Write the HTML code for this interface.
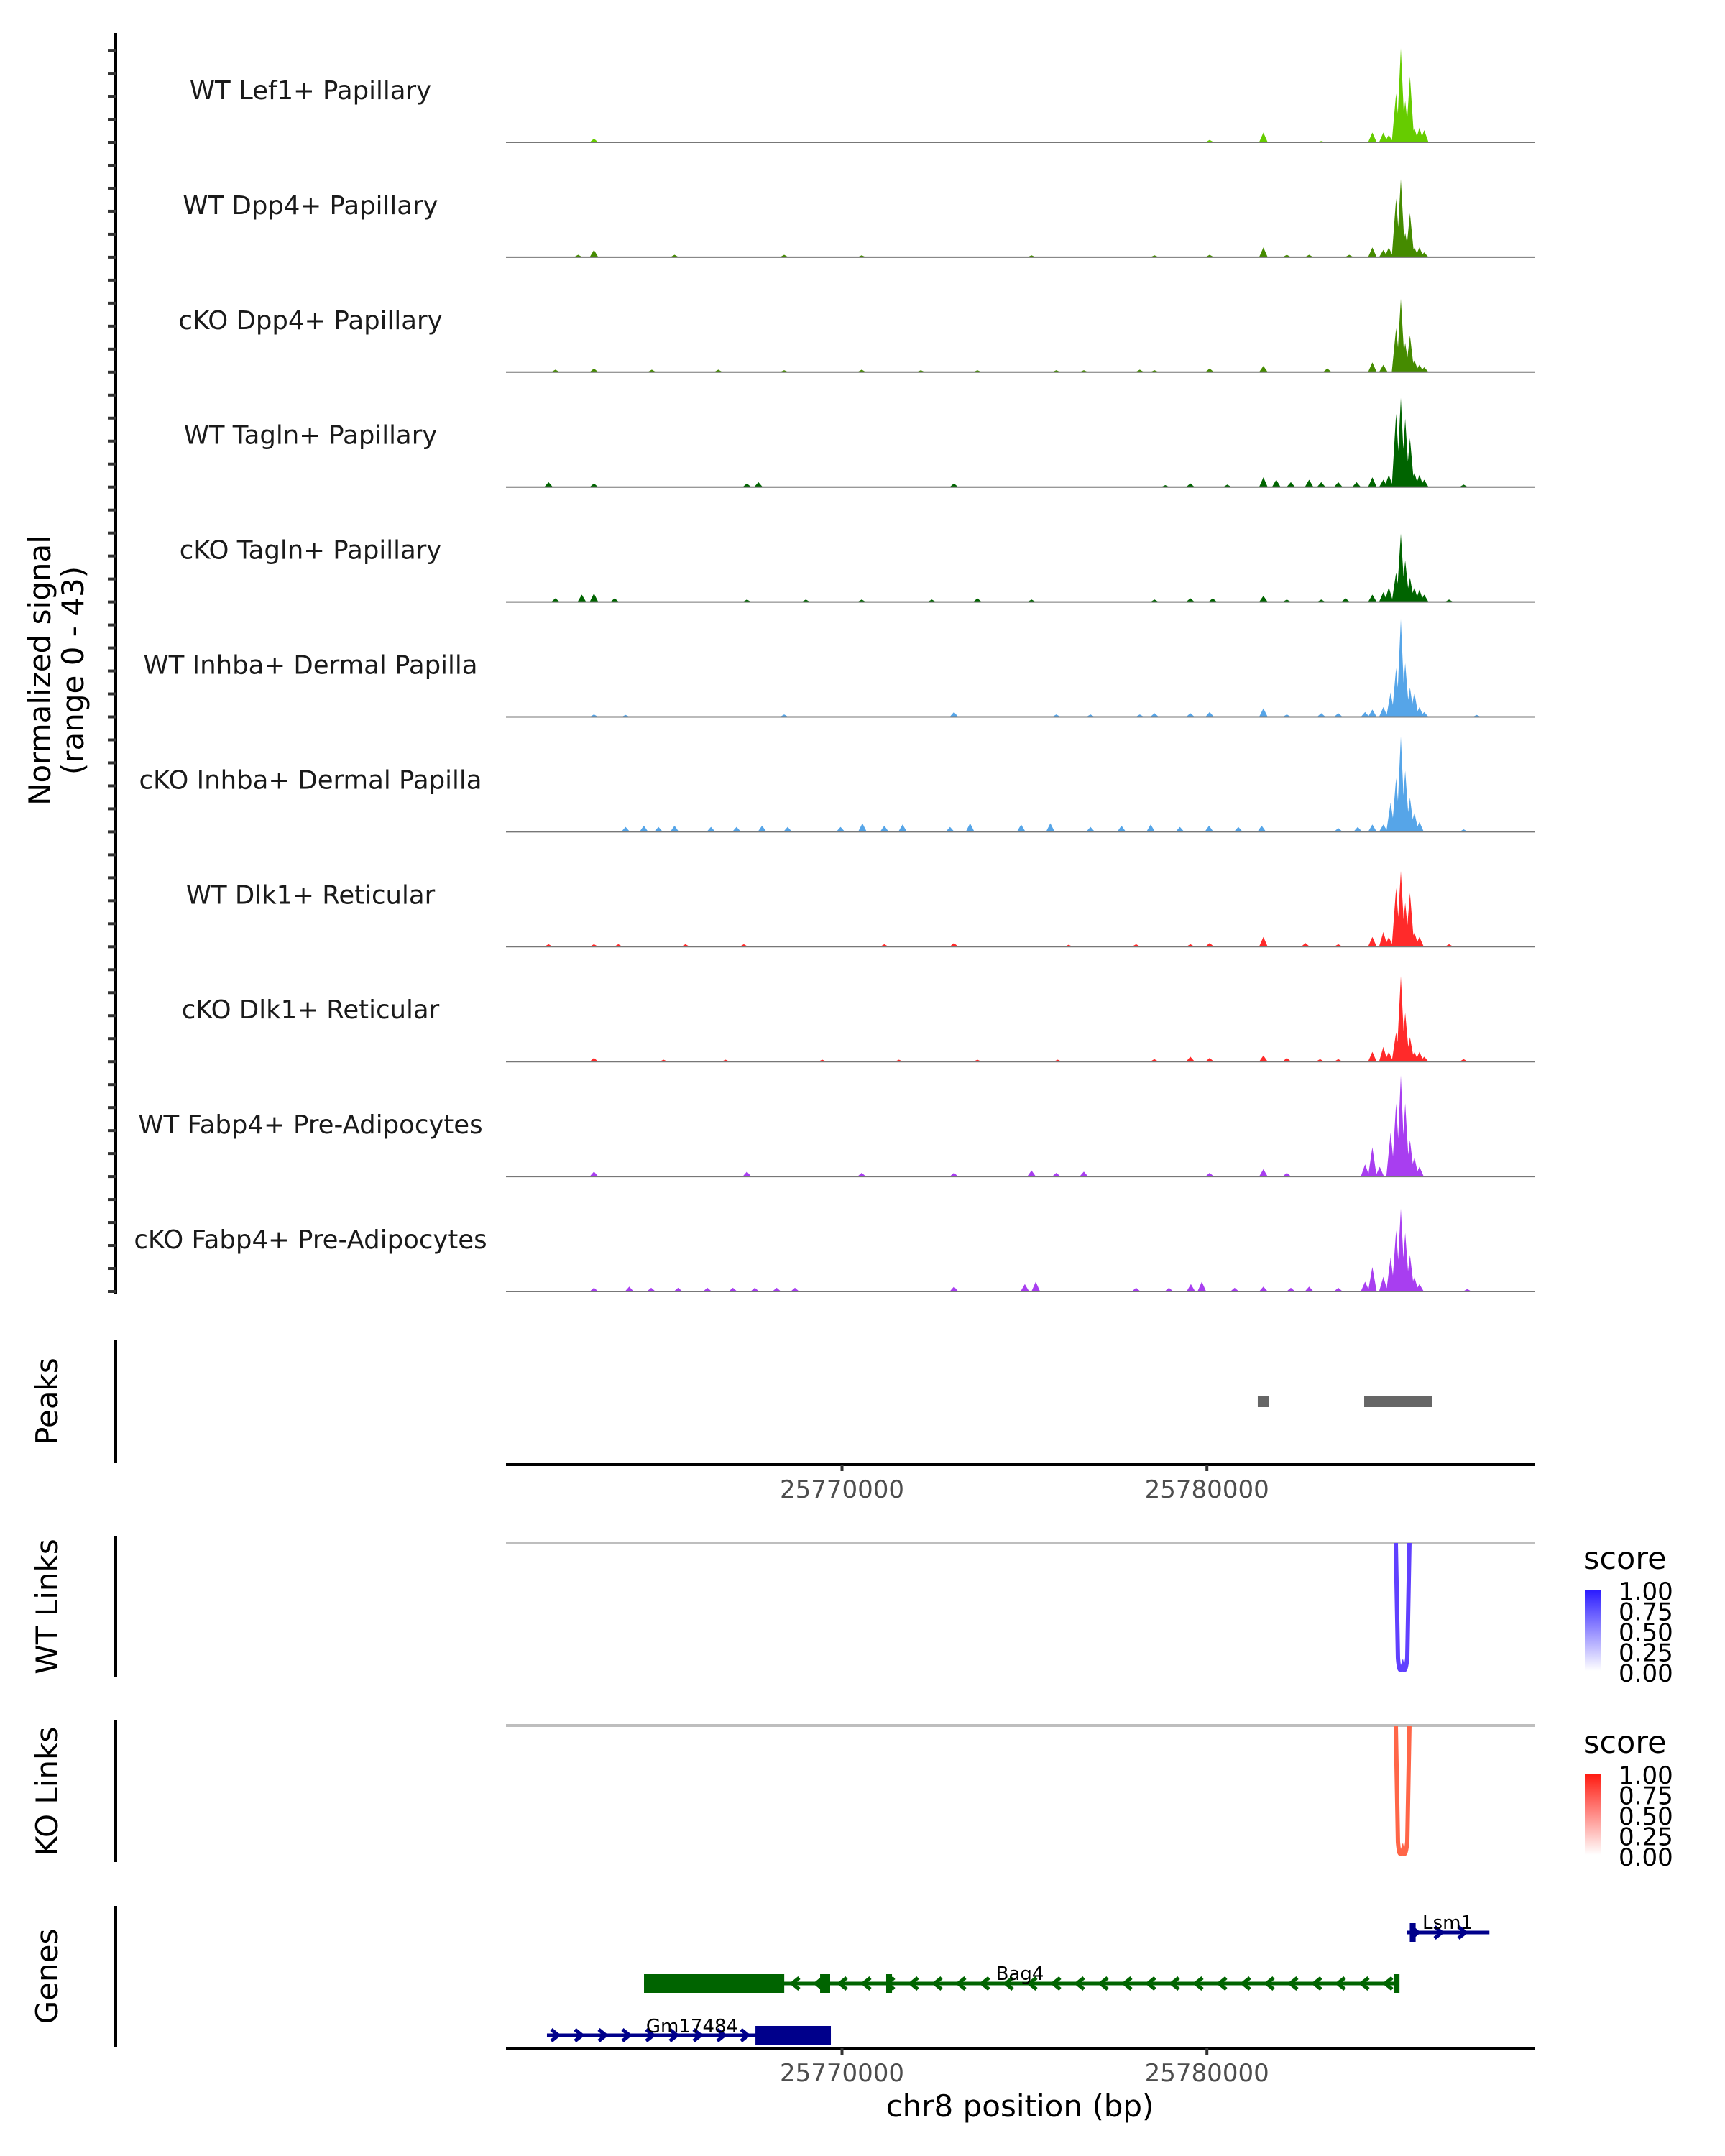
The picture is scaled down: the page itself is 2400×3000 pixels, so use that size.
<!DOCTYPE html>
<html><head><meta charset="utf-8"><style>
html,body{margin:0;padding:0;background:#fff;}
svg{display:block;font-family:"DejaVu Sans","Liberation Sans",sans-serif;}
</style></head><body>
<svg id="chart" width="2400" height="3000" viewBox="0 0 2400 3000" xmlns="http://www.w3.org/2000/svg">
<defs>
<linearGradient id="gBlue" x1="0" y1="1" x2="0" y2="0"><stop offset="0" stop-color="#ffffff"/><stop offset="1" stop-color="#2a1aff"/></linearGradient>
<linearGradient id="gRed" x1="0" y1="1" x2="0" y2="0"><stop offset="0" stop-color="#ffffff"/><stop offset="1" stop-color="#ff1a10"/></linearGradient>
</defs>
<g id="tracks"></g>
<g id="lower"></g>
</svg>
<script>
// ---- data ----
const trackNames = ["WT Lef1+ Papillary","WT Dpp4+ Papillary","cKO Dpp4+ Papillary","WT Tagln+ Papillary","cKO Tagln+ Papillary","WT Inhba+ Dermal Papilla","cKO Inhba+ Dermal Papilla","WT Dlk1+ Reticular","cKO Dlk1+ Reticular","WT Fabp4+ Pre-Adipocytes","cKO Fabp4+ Pre-Adipocytes"];
const trackColors = ["#66cc00","#458b00","#458b00","#006400","#006400","#56a5e8","#56a5e8","#ff2a2a","#ff2a2a","#a83ef0","#a83ef0"];
const sig0 = [[25763203,1.5],[25780074,1],[25781548,4],[25783133,0.5],[25784535,4],[25784835,4],[25784985,3],[25785185,20],[25785315,38.5],[25785435,17],[25785565,27],[25785685,6],[25785825,6],[25785955,5]];
const sig1 = [[25762770,1],[25763203,3],[25765410,1],[25768414,1],[25770539,0.8],[25775194,0.8],[25778565,0.8],[25780074,1],[25781548,4],[25782190,1],[25782800,1],[25783900,1],[25784535,4],[25784835,3],[25784985,4],[25785185,24],[25785315,32],[25785435,10],[25785565,18],[25785685,4],[25785825,4],[25785955,2]];
const sig2 = [[25762146,1],[25763203,1.5],[25764788,1],[25766610,1],[25768414,0.8],[25770539,1],[25772160,0.8],[25773710,0.8],[25775873,0.8],[25776628,0.8],[25778160,1],[25778565,0.8],[25780074,1.5],[25781548,2.5],[25783300,1.5],[25784535,4],[25784835,3],[25785185,18],[25785315,30],[25785435,12],[25785565,15],[25785685,5],[25785825,3],[25785955,2]];
const sig3 = [[25761958,2],[25763203,1.5],[25767395,1.5],[25767710,2],[25773068,1.5],[25778860,0.8],[25779546,1.5],[25780560,1],[25781548,4],[25781900,3],[25782300,2],[25782800,3],[25783133,2],[25783600,2],[25784100,2],[25784535,4],[25784835,3],[25784985,5],[25785185,30],[25785315,36.5],[25785435,28],[25785565,20],[25785685,6],[25785825,5],[25785955,3],[25787035,1]];
const sig4 = [[25762146,1.5],[25762870,3],[25763203,3.5],[25763770,1.5],[25767395,1],[25769010,1],[25770539,1],[25772460,1],[25773710,1.5],[25775194,1],[25778565,1],[25779546,1.5],[25780160,1.5],[25781548,2.5],[25782190,1],[25783133,1],[25783800,1.5],[25784535,3],[25784835,4],[25784985,6],[25785185,12],[25785315,28],[25785435,17],[25785565,10],[25785685,6],[25785825,5],[25785955,3],[25786635,1]];
const sig5 = [[25763203,1],[25764070,0.8],[25768414,1],[25773068,2],[25775873,1],[25776810,1],[25778160,1],[25778565,1.5],[25779546,1.5],[25780074,2],[25781548,3.5],[25782190,1],[25783133,1.5],[25783600,1.5],[25784335,2],[25784535,3],[25784835,4],[25785035,10],[25785185,20],[25785315,40],[25785435,22],[25785565,12],[25785685,10],[25785825,4],[25785955,2],[25787395,0.8]];
const sig6 = [[25764070,2],[25764570,2.5],[25764970,2],[25765410,2.5],[25766410,2],[25767110,2],[25767810,2.5],[25768510,2],[25769960,2],[25770560,3.5],[25771160,2.5],[25771660,3],[25772960,2],[25773510,3.5],[25774910,3],[25775710,3.5],[25776810,2],[25777660,2.5],[25778460,3],[25779260,2],[25780060,2.5],[25780860,2],[25781500,2.5],[25783600,1.5],[25784135,2],[25784535,3],[25784835,3],[25785035,12],[25785185,22],[25785315,39],[25785435,25],[25785565,14],[25785685,8],[25785825,4],[25787035,1]];
const sig7 = [[25761958,1],[25763203,1],[25763870,1],[25765710,1],[25767310,1],[25771160,1],[25773068,1.5],[25776210,0.8],[25778060,1],[25779546,1],[25780074,1.5],[25781548,4],[25782700,1.5],[25783600,1],[25784535,4],[25784835,6],[25784985,4],[25785185,24],[25785315,31],[25785435,18],[25785565,22],[25785685,6],[25785825,4],[25786635,1]];
const sig8 = [[25763203,1.5],[25765110,0.8],[25766810,0.8],[25769460,0.8],[25771560,0.8],[25773710,0.8],[25775910,0.8],[25778560,1],[25779546,2],[25780074,1.5],[25781548,2.5],[25782190,1.5],[25783100,1],[25783600,1],[25784535,4],[25784835,6],[25784985,4],[25785185,12],[25785315,35],[25785435,20],[25785565,10],[25785685,4],[25785825,4],[25785955,2],[25787035,1]];
const sig9 = [[25763203,2],[25767395,2],[25770539,1.5],[25773068,1.5],[25775194,2.5],[25775873,1.5],[25776628,2],[25780074,1.5],[25781548,3],[25782190,1.5],[25784335,5],[25784535,12],[25784735,4],[25785035,18],[25785185,30],[25785315,41.5],[25785435,30],[25785565,15],[25785685,8],[25785825,4]];
const sig10 = [[25763203,1.5],[25764170,2],[25764770,1.5],[25765510,1.5],[25766310,1.5],[25767010,1.5],[25767610,1.5],[25768210,1.5],[25768710,1.5],[25773068,2],[25775010,3],[25775310,4],[25778060,1.5],[25778960,1.5],[25779560,3],[25779860,4],[25780760,1.5],[25781548,2],[25782300,1.5],[25782800,2],[25783600,1.5],[25784335,4],[25784535,10],[25784835,6],[25785035,14],[25785185,25],[25785315,34],[25785435,24],[25785565,15],[25785685,6],[25785825,3],[25787135,1]];
const signals = [sig0,sig1,sig2,sig3,sig4,sig5,sig6,sig7,sig8,sig9,sig10];
const peakStarts = [25781394,25784310];
const peakEnds = [25781690,25786162];
const wtLinkStart = [25785176], wtLinkEnd = [25785550], wtLinkScore=[0.8];
const koLinkStart = [25785176], koLinkEnd = [25785550], koLinkScore=[0.65];
const xTicks = [25770000,25780000];
const xTickLabels = ["25770000","25780000"];
const legendTicks = ["1.00","0.75","0.50","0.25","0.00"];
const geneNames = ["Lsm1","Bag4","Gm17484"];
const geneStarts = [25785473,25764574,25761914];
const geneEnds = [25787742,25785258,25769695];
const geneStrands = [1,-1,1];
const geneColors = ["#00008b","#006400","#00008b"];
const exonStarts = [[25785560],[25764574,25769400,25771211,25785120],[25767628]];
const exonEnds = [[25785720],[25768417,25769675,25771370,25785258],[25769695]];

// ---- scales ----
const X0=704, X1=2135;
const x = bp => 1171.5 + (bp-25770000)*0.05077;
const YMAX=43, trackTop=198, trackStep=159.9, trackH=146;
const NS="http://www.w3.org/2000/svg";
function mk(tag, attrs, parent, text){const e=document.createElementNS(NS,tag);for(const k in attrs)e.setAttribute(k,attrs[k]);if(text!==undefined)e.textContent=text;parent.appendChild(e);return e;}
const T=document.getElementById('tracks'), L=document.getElementById('lower');

// left axis
const ax = mk('line',{x1:161,y1:46,x2:161,y2:1800,stroke:'#000','stroke-width':4},T);
 
for(let i=0;i<signals.length;i++){
  const base = trackTop + i*trackStep;
  for(let k=0;k<5;k++){const t=mk('line',{x1:150,x2:161,y1:base-k*trackStep/5,y2:base-k*trackStep/5,stroke:'#333','stroke-width':4},T);
     }
  const g = mk('g',{},T);
   
  const lab = mk('text',{x:432,y:base-60,'text-anchor':'middle','font-size':35.5,fill:'#1a1a1a'},g,trackNames[i]);
   
  let d='';
  signals[i].forEach(p=>{const cx=x(p[0]), h=p[1]/YMAX*trackH;
    d+=`M${(cx-6).toFixed(1)},${base} L${cx.toFixed(1)},${(base-h).toFixed(1)} L${(cx+6).toFixed(1)},${base} Z `;});
  const ar = mk('path',{d:d,fill:trackColors[i]},g);
   
  const bl = mk('line',{x1:X0,x2:X1,y1:base,y2:base,stroke:'#777','stroke-width':2},g);
   
}
const yt = mk('text',{transform:'translate(80,933) rotate(-90)','text-anchor':'middle','font-size':42,fill:'#000'},T);
 
mk('tspan',{x:0,dy:-10},yt,'Normalized signal');
mk('tspan',{x:0,dy:46},yt,'(range 0 - 43)');

// panel titles & axis lines
function panel(name,title,y0,y1){
  const l=mk('line',{x1:161,x2:161,y1:y0,y2:y1,stroke:'#000','stroke-width':4},L);
   
  const t=mk('text',{transform:`translate(80,${(y0+y1)/2}) rotate(-90)`,'text-anchor':'middle','font-size':42,fill:'#000'},L,title);
   
}
panel('peaks','Peaks',1864,2036);
panel('wt-links','WT Links',2137,2334);
panel('ko-links','KO Links',2394,2591);
panel('genes','Genes',2652,2848);

// peaks
for(let i=0;i<peakStarts.length;i++){
  const r=mk('rect',{x:x(peakStarts[i]),y:1942,width:x(peakEnds[i])-x(peakStarts[i]),height:16,fill:'#666'},L);
   
}
function xaxis(y,name){
  const l=mk('line',{x1:X0,x2:X1,y1:y,y2:y,stroke:'#000','stroke-width':4},L);
   
  xTicks.forEach((v,i)=>{
    const t=mk('line',{x1:x(v),x2:x(v),y1:y,y2:y+9,stroke:'#333','stroke-width':4},L);
     
    const tl=mk('text',{x:x(v),y:y+46,'text-anchor':'middle','font-size':34,fill:'#4d4d4d'},L,xTickLabels[i]);
     
  });
}
xaxis(2038,'peaks-x-axis');

// links
function links(st,en,sc,top,bottom,color,name){
  const gl=mk('line',{x1:X0,x2:X1,y1:top,y2:top,stroke:'#bebebe','stroke-width':4},L);
   
  for(let i=0;i<st.length;i++){
    const a=x(st[i]), b=x(en[i]), m=(a+b)/2;
    const p=mk('path',{d:`M${a},${top} L${a+3},${bottom-20} Q${a+5},${bottom+6} ${m},${bottom-8} Q${b-6},${bottom+6} ${b-3},${bottom-20} L${b},${top}`,fill:'none',stroke:color,'stroke-width':6},L);
     
  }
}
links(wtLinkStart,wtLinkEnd,wtLinkScore,2147,2327,'#6040ff','wt-link');
links(koLinkStart,koLinkEnd,koLinkScore,2401,2583,'#ff6648','ko-link');

// legends
function legend(ty,by,grad,name){
  const t=mk('text',{x:2203,y:ty,'font-size':43,fill:'#000'},L,'score');
   
  const r=mk('rect',{x:2205,y:by,width:22,height:113,fill:`url(#${grad})`},L);
   
  legendTicks.forEach((s,i)=>{
    const yy=by+2+i*28.5;
    const tl=mk('text',{x:2252,y:yy+12,'font-size':34,fill:'#000'},L,s);
     
  });
}
legend(2183,2212,'gBlue','wt');
legend(2439,2468,'gRed','ko');

// genes
const geneY=[2689,2760,2832], labelY=[2684,2755,2828], labelX=[2014,1419,963];
for(let i=0;i<geneNames.length;i++){
  const g=mk('g',{},L);
   
  const y=geneY[i], col=geneColors[i], a=x(geneStarts[i]), b=x(geneEnds[i]);
  mk('line',{x1:a,x2:b,y1:y,y2:y,stroke:col,'stroke-width':5},g);
  let d='';
  for(let cx=a+12; cx<b-6; cx+=33){
    if(geneStrands[i]>0) d+=`M${cx-6},${y-8} L${cx+4},${y} L${cx-6},${y+8} `;
    else d+=`M${cx+6},${y-8} L${cx-4},${y} L${cx+6},${y+8} `;
  }
  mk('path',{d:d,fill:'none',stroke:col,'stroke-width':5},g);
  exonStarts[i].forEach((s,k)=>{
    const ex=x(s), ew=Math.max(8,x(exonEnds[i][k])-ex);
    mk('rect',{x:ex,y:y-13,width:ew,height:26,fill:col},g);
  });
  const lab=mk('text',{x:labelX[i],y:labelY[i],'text-anchor':'middle','font-size':26,fill:'#000'},g,geneNames[i]);
   
}
xaxis(2850,'genes-x-axis');
const xt=mk('text',{x:1419,y:2945,'text-anchor':'middle','font-size':42,fill:'#000'},L,'chr8 position (bp)');
 
</script>
</body></html>
